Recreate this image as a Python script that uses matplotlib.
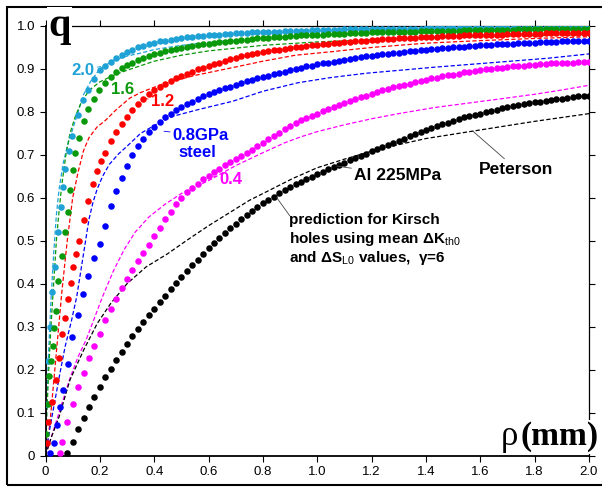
import numpy as np
import matplotlib
matplotlib.use("Agg")
import matplotlib.pyplot as plt
from matplotlib.patches import Rectangle

# measured q vs notch radius (dots) and Kirsch-hole predictions (dashed)
tail_x = np.round(np.arange(0.22, 2.001, 0.02), 2)

cyan_head_x = [0.003, 0.010, 0.016, 0.023, 0.035, 0.047, 0.056, 0.063, 0.072, 0.088, 0.099, 0.121, 0.139, 0.157, 0.178, 0.200]
cyan_head_y = [0.12, 0.22, 0.30, 0.381, 0.439, 0.520, 0.579, 0.625, 0.666, 0.710, 0.745, 0.792, 0.827, 0.852, 0.876, 0.897]
cyan_tail_y = [0.907, 0.917, 0.926, 0.933, 0.940, 0.945, 0.950, 0.954, 0.958, 0.961,
               0.964, 0.966, 0.968, 0.970, 0.972, 0.974, 0.975, 0.976, 0.977, 0.978,
               0.979, 0.980, 0.981, 0.982, 0.983, 0.983, 0.984, 0.985, 0.985, 0.986,
               0.986, 0.987, 0.987, 0.988, 0.988, 0.989, 0.989, 0.989, 0.990, 0.990,
               0.990, 0.991, 0.991, 0.991, 0.992, 0.992, 0.992, 0.992, 0.993, 0.993,
               0.993, 0.993, 0.993, 0.994, 0.994, 0.994, 0.994, 0.994, 0.994, 0.995,
               0.995, 0.995, 0.995, 0.995, 0.995, 0.995, 0.995, 0.995, 0.995, 0.995,
               0.995, 0.995, 0.995, 0.996, 0.996, 0.996, 0.996, 0.996, 0.996, 0.996,
               0.996, 0.996, 0.996, 0.996, 0.997, 0.997, 0.997, 0.997, 0.997, 0.997]

green_head_x = [0.003, 0.008, 0.014, 0.022, 0.029, 0.033, 0.039, 0.047, 0.060, 0.072, 0.082, 0.090, 0.100, 0.108, 0.123, 0.142, 0.157, 0.179, 0.198]
green_head_y = [0.050, 0.120, 0.185, 0.220, 0.255, 0.296, 0.336, 0.406, 0.464, 0.520, 0.566, 0.617, 0.664, 0.704, 0.739, 0.779, 0.807, 0.829, 0.850]
green_tail_y = [0.867, 0.882, 0.893, 0.902, 0.909, 0.915, 0.920, 0.925, 0.930, 0.934,
                0.937, 0.941, 0.944, 0.946, 0.949, 0.951, 0.953, 0.955, 0.957, 0.959,
                0.960, 0.962, 0.963, 0.965, 0.966, 0.967, 0.968, 0.970, 0.971, 0.972,
                0.973, 0.974, 0.975, 0.975, 0.976, 0.977, 0.978, 0.978, 0.979, 0.980,
                0.980, 0.981, 0.981, 0.982, 0.982, 0.983, 0.983, 0.984, 0.984, 0.985,
                0.985, 0.985, 0.986, 0.986, 0.986, 0.987, 0.987, 0.987, 0.988, 0.988,
                0.988, 0.988, 0.989, 0.989, 0.989, 0.989, 0.990, 0.990, 0.990, 0.990,
                0.990, 0.991, 0.991, 0.991, 0.991, 0.991, 0.992, 0.992, 0.992, 0.992,
                0.992, 0.992, 0.993, 0.993, 0.993, 0.993, 0.993, 0.993, 0.994, 0.994]

red_head_x = [0.004, 0.010, 0.023, 0.039, 0.050, 0.062, 0.072, 0.082, 0.093, 0.102, 0.113, 0.123, 0.140, 0.157, 0.173, 0.190, 0.205]
red_head_y = [0.030, 0.079, 0.125, 0.176, 0.228, 0.282, 0.321, 0.364, 0.402, 0.438, 0.470, 0.499, 0.548, 0.593, 0.631, 0.663, 0.685]
red_tail_y = [0.705, 0.733, 0.754, 0.772, 0.789, 0.804, 0.818, 0.830, 0.841, 0.851,
              0.859, 0.866, 0.873, 0.879, 0.884, 0.889, 0.894, 0.899, 0.903, 0.907,
              0.911, 0.915, 0.919, 0.923, 0.926, 0.929, 0.932, 0.934, 0.937, 0.939,
              0.941, 0.943, 0.945, 0.947, 0.949, 0.950, 0.952, 0.953, 0.955, 0.956,
              0.957, 0.958, 0.960, 0.961, 0.962, 0.963, 0.964, 0.965, 0.966, 0.967,
              0.968, 0.969, 0.969, 0.970, 0.971, 0.972, 0.972, 0.973, 0.974, 0.974,
              0.975, 0.975, 0.976, 0.976, 0.977, 0.977, 0.978, 0.978, 0.979, 0.979,
              0.979, 0.980, 0.980, 0.980, 0.981, 0.981, 0.981, 0.982, 0.982, 0.982,
              0.982, 0.983, 0.983, 0.983, 0.983, 0.983, 0.984, 0.984, 0.984, 0.984]

blue_head_x = [0.015, 0.030, 0.042, 0.055, 0.064, 0.082, 0.099, 0.120, 0.138, 0.157, 0.180, 0.200]
blue_head_y = [0.005, 0.030, 0.070, 0.113, 0.152, 0.214, 0.276, 0.327, 0.377, 0.417, 0.459, 0.493]
blue_tail_y = [0.535, 0.580, 0.615, 0.647, 0.675, 0.700, 0.720, 0.738, 0.753, 0.766,
               0.777, 0.787, 0.796, 0.804, 0.811, 0.818, 0.824, 0.830, 0.836, 0.841,
               0.846, 0.851, 0.855, 0.859, 0.863, 0.867, 0.871, 0.874, 0.878, 0.881,
               0.884, 0.888, 0.891, 0.894, 0.897, 0.900, 0.903, 0.906, 0.908, 0.911,
               0.913, 0.915, 0.917, 0.919, 0.921, 0.923, 0.925, 0.927, 0.929, 0.931,
               0.932, 0.934, 0.935, 0.937, 0.938, 0.940, 0.941, 0.942, 0.943, 0.945,
               0.946, 0.947, 0.948, 0.949, 0.950, 0.951, 0.952, 0.953, 0.954, 0.955,
               0.955, 0.956, 0.957, 0.958, 0.958, 0.959, 0.960, 0.960, 0.961, 0.961,
               0.962, 0.962, 0.963, 0.963, 0.964, 0.964, 0.965, 0.965, 0.966, 0.966]

magenta_head_x = [0.053, 0.062, 0.078, 0.100, 0.120, 0.140, 0.160, 0.180, 0.200]
magenta_head_y = [0.006, 0.032, 0.079, 0.121, 0.160, 0.193, 0.228, 0.256, 0.284]
magenta_tail_y = [0.316, 0.342, 0.365, 0.389, 0.412, 0.433, 0.453, 0.471, 0.490, 0.510,
                  0.529, 0.550, 0.567, 0.585, 0.600, 0.613, 0.623, 0.633, 0.643, 0.651,
                  0.660, 0.668, 0.676, 0.683, 0.690, 0.698, 0.705, 0.712, 0.720, 0.728,
                  0.736, 0.744, 0.752, 0.760, 0.767, 0.774, 0.780, 0.785, 0.791, 0.796,
                  0.801, 0.807, 0.812, 0.817, 0.821, 0.826, 0.830, 0.834, 0.838, 0.842,
                  0.846, 0.850, 0.853, 0.857, 0.860, 0.863, 0.866, 0.869, 0.872, 0.875,
                  0.878, 0.880, 0.883, 0.885, 0.887, 0.889, 0.892, 0.893, 0.895, 0.897,
                  0.899, 0.900, 0.902, 0.903, 0.905, 0.906, 0.907, 0.908, 0.909, 0.910,
                  0.911, 0.912, 0.913, 0.913, 0.914, 0.915, 0.915, 0.916, 0.916, 0.917]

black_head_x = [0.08, 0.10, 0.12, 0.14, 0.16, 0.18, 0.20]
black_head_y = [0.005, 0.032, 0.061, 0.087, 0.113, 0.137, 0.160]
black_tail_y = [0.182, 0.202, 0.222, 0.241, 0.260, 0.278, 0.295, 0.311, 0.327, 0.342,
                0.357, 0.372, 0.387, 0.401, 0.415, 0.429, 0.443, 0.456, 0.469, 0.482,
                0.495, 0.507, 0.519, 0.530, 0.540, 0.550, 0.560, 0.569, 0.578, 0.587,
                0.595, 0.603, 0.611, 0.618, 0.625, 0.631, 0.637, 0.643, 0.649, 0.655,
                0.661, 0.666, 0.672, 0.677, 0.682, 0.687, 0.692, 0.698, 0.703, 0.708,
                0.713, 0.718, 0.723, 0.728, 0.733, 0.738, 0.743, 0.748, 0.753, 0.758,
                0.763, 0.767, 0.771, 0.775, 0.779, 0.783, 0.787, 0.790, 0.793, 0.796,
                0.799, 0.802, 0.805, 0.808, 0.811, 0.813, 0.816, 0.818, 0.820, 0.822,
                0.824, 0.826, 0.828, 0.830, 0.831, 0.833, 0.834, 0.836, 0.837, 0.838]

# dashed prediction curves
cyan_pred_x = [0.0, 0.005, 0.01, 0.02, 0.03, 0.04, 0.05, 0.065, 0.08, 0.10, 0.12, 0.14, 0.165, 0.20, 0.25, 0.30, 0.35, 0.40, 0.50, 0.60, 0.80, 1.00, 1.20, 1.50, 2.00]
cyan_pred_y = [0.0, 0.12, 0.22, 0.36, 0.47, 0.56, 0.62, 0.68, 0.72, 0.76, 0.80, 0.84, 0.87, 0.90, 0.92, 0.93, 0.937, 0.945, 0.955, 0.962, 0.972, 0.978, 0.983, 0.987, 0.990]
green_pred_x = [0.0, 0.005, 0.012, 0.02, 0.03, 0.04, 0.05, 0.06, 0.075, 0.09, 0.11, 0.13, 0.16, 0.20, 0.25, 0.30, 0.40, 0.50, 0.60, 0.80, 1.00, 1.20, 1.50, 2.00]
green_pred_y = [0.0, 0.10, 0.20, 0.30, 0.40, 0.50, 0.57, 0.63, 0.70, 0.75, 0.79, 0.82, 0.85, 0.87, 0.885, 0.897, 0.918, 0.932, 0.942, 0.955, 0.963, 0.968, 0.974, 0.980]
red_pred_x = [0.0, 0.01, 0.02, 0.03, 0.04, 0.05, 0.06, 0.07, 0.08, 0.09, 0.10, 0.12, 0.14, 0.16, 0.19, 0.22, 0.26, 0.31, 0.35, 0.43, 0.55, 0.68, 0.80, 0.92, 1.05, 1.20, 1.40, 1.60, 1.80, 2.00]
red_pred_y = [0.0, 0.04, 0.10, 0.17, 0.24, 0.31, 0.38, 0.44, 0.50, 0.55, 0.60, 0.66, 0.71, 0.74, 0.765, 0.78, 0.805, 0.832, 0.845, 0.865, 0.885, 0.902, 0.918, 0.932, 0.940, 0.950, 0.960, 0.966, 0.971, 0.975]
blue_pred_x = [0.0, 0.017, 0.035, 0.053, 0.072, 0.096, 0.115, 0.13, 0.145, 0.16, 0.175, 0.19, 0.21, 0.235, 0.27, 0.30, 0.35, 0.41, 0.47, 0.56, 0.69, 0.80, 0.93, 1.05, 1.18, 1.43, 1.67, 1.85, 2.00]
blue_pred_y = [0.0, 0.067, 0.129, 0.191, 0.253, 0.315, 0.37, 0.43, 0.49, 0.55, 0.59, 0.62, 0.65, 0.678, 0.703, 0.72, 0.75, 0.772, 0.79, 0.805, 0.825, 0.848, 0.868, 0.88, 0.89, 0.904, 0.916, 0.925, 0.935]
magenta_pred_x = [0.0, 0.03, 0.06, 0.09, 0.12, 0.15, 0.18, 0.21, 0.25, 0.29, 0.33, 0.38, 0.44, 0.50, 0.60, 0.70, 0.80, 0.88, 0.94, 1.00, 1.10, 1.20, 1.30, 1.43, 1.55, 1.67, 1.80, 1.90, 2.00]
magenta_pred_y = [0.0, 0.06, 0.12, 0.18, 0.23, 0.27, 0.32, 0.37, 0.43, 0.48, 0.52, 0.555, 0.585, 0.61, 0.64, 0.675, 0.705, 0.728, 0.742, 0.754, 0.770, 0.784, 0.796, 0.81, 0.82, 0.83, 0.841, 0.851, 0.862]
black_pred_x = [0.0, 0.02, 0.05, 0.09, 0.14, 0.19, 0.24, 0.30, 0.37, 0.45, 0.52, 0.60, 0.75, 0.91, 1.00, 1.10, 1.23, 1.40, 1.55, 1.67, 1.80, 2.00]
black_pred_y = [0.0, 0.04, 0.09, 0.176, 0.245, 0.307, 0.354, 0.40, 0.439, 0.47, 0.501, 0.535, 0.594, 0.645, 0.67, 0.69, 0.714, 0.738, 0.753, 0.765, 0.778, 0.796]

x_ticks = [0.0, 0.2, 0.4, 0.6, 0.8, 1.0, 1.2, 1.4, 1.6, 1.8, 2.0]
x_labels = ["0", "0.2", "0.4", "0.6", "0.8", "1.0", "1.2", "1.4", "1.6", "1.8", "2.0"]
y_ticks = [0.0, 0.1, 0.2, 0.3, 0.4, 0.5, 0.6, 0.7, 0.8, 0.9, 1.0]
y_labels = ["0", "0.1", "0.2", "0.3", "0.4", "0.5", "0.6", "0.7", "0.8", "0.9", "1.0"]

colors = {
    "cyan": "#1ea2d6",
    "green": "#0a990a",
    "red": "#ff0000",
    "blue": "#0000ff",
    "magenta": "#ff00ff",
    "black": "#000000",
}

series = [
    ("cyan", cyan_head_x, cyan_head_y, cyan_tail_y, cyan_pred_x, cyan_pred_y),
    ("green", green_head_x, green_head_y, green_tail_y, green_pred_x, green_pred_y),
    ("red", red_head_x, red_head_y, red_tail_y, red_pred_x, red_pred_y),
    ("blue", blue_head_x, blue_head_y, blue_tail_y, blue_pred_x, blue_pred_y),
    ("magenta", magenta_head_x, magenta_head_y, magenta_tail_y, magenta_pred_x, magenta_pred_y),
    ("black", black_head_x, black_head_y, black_tail_y, black_pred_x, black_pred_y),
]

plt.rcParams["font.family"] = ["Liberation Sans", "DejaVu Sans"]
plt.rcParams["mathtext.fontset"] = "custom"
plt.rcParams["mathtext.rm"] = "Liberation Sans"

fig = plt.figure(figsize=(6.02, 4.87), dpi=100)
ax = fig.add_axes([45.5 / 602, 1 - 455.5 / 487, (589 - 45.5) / 602, (455.5 - 26) / 487])

for name, hx, hy, ty, px, py in series:
    ax.plot(px, py, color=colors[name], lw=0.9, linestyle=(0, (3.4, 1.8)), zorder=2)

for name, hx, hy, ty, px, py in series:
    ax.plot(list(hx) + list(tail_x), list(hy) + list(ty), "o", color=colors[name],
            ms=4.7, mec="none", zorder=3)

ax.set_xlim(0, 2.0)
ax.set_ylim(0, 1.0)
ax.set_xticks(x_ticks)
ax.set_xticklabels(x_labels)
ax.set_yticks(y_ticks)
ax.set_yticklabels(y_labels)
ax.tick_params(axis="both", direction="out", length=4.5, width=0.8, labelsize=9.5, pad=3,
               top=True, right=True, labeltop=False, labelright=False)
for sp in ax.spines.values():
    sp.set_linewidth(0.9)
ax.spines["left"].set_linewidth(1.3)
ax.spines["bottom"].set_linewidth(1.3)

# curve labels with short leader lines
lab = dict(fontsize=12, fontweight="bold", ha="center", va="center")
ax.annotate("2.0", xy=(0.204, 0.906), xytext=(0.138, 0.897), color=colors["cyan"],
            arrowprops=dict(arrowstyle="-", color=colors["cyan"], lw=0.6, shrinkA=0, shrinkB=0), **lab)
ax.annotate("1.6", xy=(0.237, 0.885), xytext=(0.285, 0.853), color=colors["green"],
            arrowprops=dict(arrowstyle="-", color=colors["green"], lw=0.6, shrinkA=0, shrinkB=0), **lab)
ax.annotate("1.2", xy=(0.36, 0.832), xytext=(0.43, 0.824), color=colors["red"],
            arrowprops=dict(arrowstyle="-", color=colors["red"], lw=0.6, shrinkA=0, shrinkB=0), **lab)
ax.annotate("0.8GPa", xy=(0.436, 0.755), xytext=(0.572, 0.745), color=colors["blue"],
            arrowprops=dict(arrowstyle="-", color=colors["blue"], lw=0.6, shrinkA=0, shrinkB=0), **lab)
ax.text(0.557, 0.706, "steel", color=colors["blue"], **lab)
ax.annotate("0.4", xy=(0.602, 0.652), xytext=(0.682, 0.643), color=colors["magenta"],
            arrowprops=dict(arrowstyle="-", color=colors["magenta"], lw=0.6, shrinkA=0, shrinkB=0), **lab)
ax.annotate("Al 225MPa", xy=(1.071, 0.674), xytext=(1.296, 0.653), color="black",
            arrowprops=dict(arrowstyle="-", color="#444444", lw=0.6, shrinkA=0, shrinkB=0),
            fontsize=12.5, fontweight="bold", ha="center", va="center")
ax.annotate("Peterson", xy=(1.573, 0.755), xytext=(1.732, 0.667), color="black",
            arrowprops=dict(arrowstyle="-", color="#444444", lw=0.6, shrinkA=0, shrinkB=0),
            fontsize=12.5, fontweight="bold", ha="center", va="center")
ax.annotate("", xy=(0.85, 0.601), xytext=(0.899, 0.558),
            arrowprops=dict(arrowstyle="-", color="#444444", lw=0.6, shrinkA=0, shrinkB=0))
note = dict(fontsize=11, fontweight="bold", ha="left", va="center", color="black")
ax.text(0.896, 0.548, "prediction for Kirsch", **note)
ax.text(0.896, 0.503, "holes using mean ΔK" + r"$_{\mathrm{th0}}$", **note)
ax.text(0.896, 0.459, "and ΔS" + r"$_{\mathrm{L0}}$" + " values,  γ=6", **note)

# big axis letters drawn over the frame
fig.text(48 / 602, 1 - 36 / 487, "q", fontsize=29, fontweight="bold", family="Liberation Serif",
         ha="left", va="baseline", zorder=5,
         bbox=dict(fc="white", ec="none", pad=1))
fig.text(501 / 602, 1 - 445 / 487, "ρ", fontsize=25, family="Liberation Serif",
         ha="left", va="baseline", zorder=5, bbox=dict(fc="white", ec="none", pad=1))
fig.text(521 / 602, 1 - 445 / 487, "(mm)", fontsize=24, fontweight="bold", family="Liberation Serif",
         ha="left", va="baseline", zorder=5, bbox=dict(fc="white", ec="none", pad=1))

fig.add_artist(Rectangle((7 / 602, 2 / 487), 600 / 602, 478 / 487, transform=fig.transFigure,
                         fill=False, ec="black", lw=1.5))

fig.savefig("out.png", dpi=100)
